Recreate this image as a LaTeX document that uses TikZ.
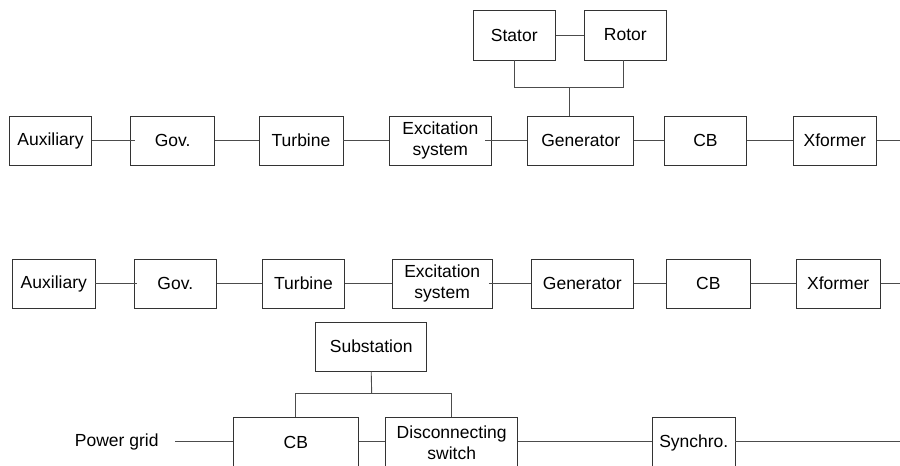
\documentclass[tikz,border=0pt]{standalone}
\usepackage{fontspec}
\setmainfont{Liberation Sans}
\begin{document}
\begin{tikzpicture}[x=1pt,y=-1pt,
  blk/.style={draw=black!80, line width=0.9pt, rectangle, inner sep=0pt,
    minimum height=49pt, align=center,
    font=\fontsize{17.5}{21}\selectfont},
  wire/.style={draw=black!70, line width=0.9pt},
  lbl/.style={inner sep=0pt, font=\fontsize{17.5}{21}\selectfont}]
\useasboundingbox (0,0) rectangle (900,466);
\clip (0,0) rectangle (900,466);

% ---- upper chain with stator / rotor ----
\node[blk, minimum width=82pt]  (aux1) at (50.5,140.5)  {Auxiliary};
\node[blk, minimum width=84pt]  (gov1) at (172.7,140.5) {Gov.};
\node[blk, minimum width=84pt]  (tur1) at (301,140.5)   {Turbine};
\node[blk, minimum width=102.7pt] (exc1) at (440.3,140.5) {Excitation\\system};
\node[blk, minimum width=106pt] (gen1) at (580.7,140.5) {Generator};
\node[blk, minimum width=82.4pt] (cb1) at (705.5,140.5) {CB};
\node[blk, minimum width=83.7pt] (xf1) at (834.8,140.5) {Xformer};
\coordinate (out1) at (900,140.5);

\node[blk, minimum width=82pt, minimum height=50pt] (stator) at (514.3,35) {Stator};
\node[blk, minimum width=82.7pt, minimum height=50pt] (rotor) at (625.3,35) {Rotor};
\coordinate (sr) at (569,87.3);

\draw[wire] (aux1.east) -- ([xshift=5pt]gov1.west);
\draw[wire] (gov1) -- (tur1);
\draw[wire] (tur1) -- (exc1);
\draw[wire] ([xshift=-7pt]exc1.east) -- (gen1.west);
\draw[wire] (gen1) -- (cb1);
\draw[wire] (cb1) -- (xf1);
\draw[wire] (xf1.east) -- (out1);
\draw[wire] (stator) -- (rotor);
\draw[wire] (stator.south) |- (sr) -| ([xshift=-2.3pt]rotor.south);
\draw[wire] (sr) -- (sr |- gen1.north);

% ---- lower chain ----
\node[blk, minimum width=82.3pt] (aux2) at (53.8,283.7)  {Auxiliary};
\node[blk, minimum width=82pt]   (gov2) at (175.3,283.7) {Gov.};
\node[blk, minimum width=82.4pt] (tur2) at (303.5,283.7) {Turbine};
\node[blk, minimum width=99.7pt] (exc2) at (442.2,283.7) {Excitation\\system};
\node[blk, minimum width=102.7pt] (gen2) at (582.3,283.7) {Generator};
\node[blk, minimum width=84pt]   (cb2) at (708.3,283.7)  {CB};
\node[blk, minimum width=83.7pt] (xf2) at (838.2,283.7)  {Xformer};
\coordinate (out2) at (900,283.7);

\draw[wire] (aux2.east) -- ([xshift=3.4pt]gov2.west);
\draw[wire] (gov2) -- (tur2);
\draw[wire] (tur2) -- (exc2);
\draw[wire] ([xshift=-3.7pt]exc2.east) -- (gen2.west);
\draw[wire] (gen2) -- (cb2);
\draw[wire] (cb2) -- (xf2);
\draw[wire] (xf2.east) -- (out2);

% ---- substation and grid connection ----
\node[blk, minimum width=111pt, minimum height=48.7pt] (sub) at (371.2,346.7) {Substation};
\node[blk, minimum width=125pt, minimum height=50pt] (cb3) at (295.8,442.7) {CB};
\node[blk, minimum width=132pt, minimum height=50pt] (disc) at (451.7,442.7) {Disconnecting\\switch};
\node[blk, minimum width=82.3pt, minimum height=50pt] (syn) at (693.8,442.7) {Synchro.};
\node[lbl] (grid) at (116.7,441.7) {Power grid};
\coordinate (gridl) at (175,441.7);
\coordinate (out3) at (900,441.7);
\coordinate (sj) at (371.7,393.7);

\draw[wire] (sub.south) -- (sj);
\draw[wire] (cb3.north) |- (sj) -| (disc.north);
\draw[wire] (gridl) -- (gridl -| cb3.west);
\draw[wire] (cb3.east |- gridl) -- (disc.west |- gridl);
\draw[wire] (disc.east |- gridl) -- (syn.west |- gridl);
\draw[wire] (syn.east |- gridl) -- (out3);
\end{tikzpicture}
\end{document}
